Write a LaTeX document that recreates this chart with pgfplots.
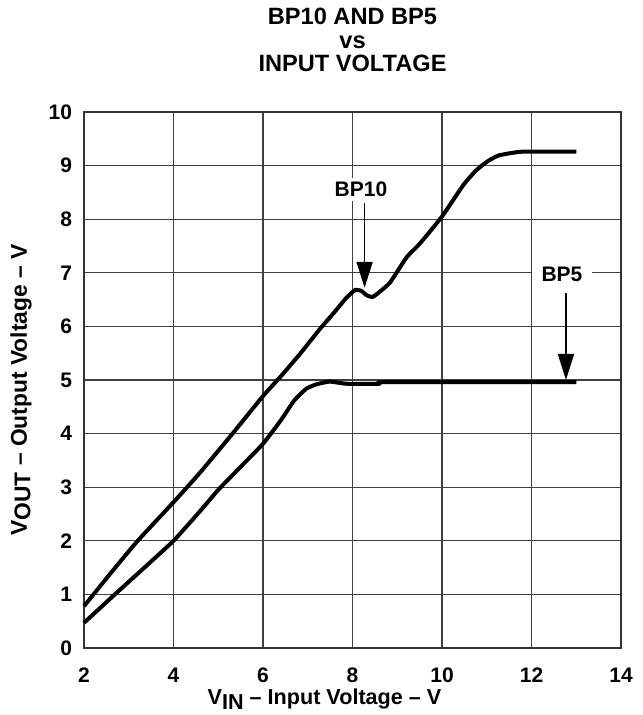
\documentclass[border=0pt]{standalone}
\usepackage{pgfplots}
\pgfplotsset{compat=1.18}
\usepackage{fontspec}
\setmainfont{Liberation Sans}
\usetikzlibrary{arrows.meta}
\begin{document}
\begin{tikzpicture}
\begin{axis}[
  name=ax,
  scale only axis,
  width=268.5pt, height=268pt,
  xmin=2, xmax=14, ymin=0, ymax=10,
  xtick={2,4,...,14}, ytick={0,1,...,10},
  major tick length=0pt,
  grid=major,
  major grid style={line width=0.6pt, black!75},
  axis line style={line width=0.7pt, black!80},
  /pgf/number format/assume math mode=true,
  ticklabel style={font=\fontsize{10.5}{12}\selectfont\bfseries},
  xticklabel style={yshift=-6.5pt},
  yticklabel style={xshift=-2.5pt},
  clip=false,
]
\addplot[black, line width=2pt, smooth, tension=0.3] coordinates {
 (2,0.78) (2.6,1.4) (3.2,2.0) (4,2.72) (4.58,3.26) (5.3,3.98) (6,4.7) (6.4,5.07)
 (6.84,5.5) (7.27,5.95) (7.58,6.25) (7.85,6.52) (8.06,6.68) (8.2,6.66)
 (8.32,6.58) (8.45,6.55) (8.6,6.64) (8.84,6.82) (9.21,7.29) (9.5,7.54)
 (10,8.05) (10.47,8.63) (10.75,8.9) (11.0,9.07) (11.27,9.19) (11.8,9.26) (13,9.26)
};
\addplot[black, line width=2pt, smooth, tension=0.3] coordinates {
 (2,0.47) (2.69,1.0) (3.35,1.5) (4,2.0) (4.58,2.54) (5,2.95) (5.5,3.38) (6,3.81)
 (6.4,4.25) (6.7,4.62) (6.97,4.84) (7.2,4.92) (7.49,4.97) (7.87,4.93)
 (8.6,4.93) (8.76,4.96) (13,4.96)
};
\node[fill=white, inner xsep=4pt, inner ysep=2pt, font=\fontsize{10.5}{12}\selectfont\bfseries]
  at (axis cs:8.19,8.56) {BP10};
\draw[line width=0.9pt, -{Triangle[width=8pt,length=13pt]}] (axis cs:8.27,8.3) -- (axis cs:8.27,6.72);
\node[fill=white, inner xsep=5pt, inner ysep=3pt, font=\fontsize{10.5}{12}\selectfont\bfseries]
  at (axis cs:12.68,6.97) {BP5};
\draw[line width=0.9pt, -{Triangle[width=8pt,length=13pt]}] (axis cs:12.77,6.62) -- (axis cs:12.77,5.0);
\end{axis}
\node[anchor=base, align=center, font=\fontsize{11.8}{11.75}\selectfont\bfseries]
  at ([yshift=20pt]ax.north) {BP10 AND BP5\\vs\\INPUT VOLTAGE};
\node[anchor=north, inner sep=0pt, font=\fontsize{10.8}{12}\selectfont\bfseries]
  at ([yshift=-20pt, xshift=-14pt]ax.south) {V\raisebox{-0.45ex}{IN} -- Input Voltage -- V};
\node[rotate=90, anchor=center, font=\fontsize{11.4}{12}\selectfont\bfseries]
  at ([xshift=-31.5pt, yshift=-5pt]ax.west) {V\raisebox{-0.3ex}{OUT} -- Output Voltage -- V};
\pgfresetboundingbox
\path ([shift={(-42pt,-33.5pt)}]ax.south west) rectangle ([shift={(10.5pt,56pt)}]ax.north east);
\end{tikzpicture}
\end{document}
